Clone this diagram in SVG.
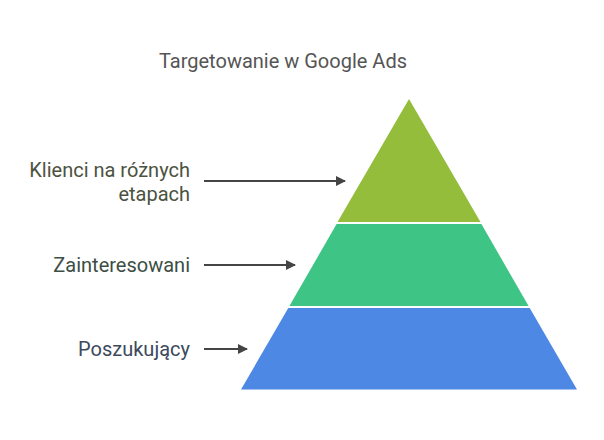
<svg xmlns="http://www.w3.org/2000/svg" width="604" height="440" viewBox="0 0 604 440">
<style>
text{font-family:Roboto,"Liberation Sans",sans-serif;font-size:20px}
.lbl{text-anchor:end}
.conn{stroke:#454545;stroke-width:2;fill:none;marker-end:url(#ah)}
</style>
<defs>
<marker id="ah" viewBox="0 0 10 10" refX="9" refY="5" markerWidth="5" markerHeight="5" orient="auto" markerUnits="strokeWidth">
<path d="M0,0 L10,5 L0,10 z" fill="#454545"/>
</marker>
</defs>
<rect width="604" height="440" fill="#ffffff"/>
<text x="283" y="68" text-anchor="middle" fill="#555555">Targetowanie w Google Ads</text>
<g id="layer-top">
<polygon points="409,99 480.5,222 337.5,222" fill="#93bd3b"/>
</g>
<g id="layer-middle">
<polygon points="336.6,224 481.4,224 528.6,306 289.4,306" fill="#3ec586"/>
</g>
<g id="layer-bottom">
<polygon points="288.3,308 529.7,308 577,389.5 241,389.5" fill="#4c88e4"/>
</g>
<g id="label-top">
<text class="lbl" x="190" y="177" fill="#4c5240">Klienci na różnych</text>
<text class="lbl" x="190" y="201" fill="#4c5240">etapach</text>
</g>
<g id="label-middle">
<text class="lbl" x="190" y="272" fill="#3c4e45">Zainteresowani</text>
</g>
<g id="label-bottom">
<text class="lbl" x="190" y="356" fill="#3c4a5c">Poszukujący</text>
</g>
<g id="connectors">
<line class="conn" x1="204" y1="181" x2="345" y2="181"/>
<line class="conn" x1="204" y1="265" x2="295" y2="265"/>
<line class="conn" x1="204" y1="349" x2="247" y2="349"/>
</g>
</svg>
